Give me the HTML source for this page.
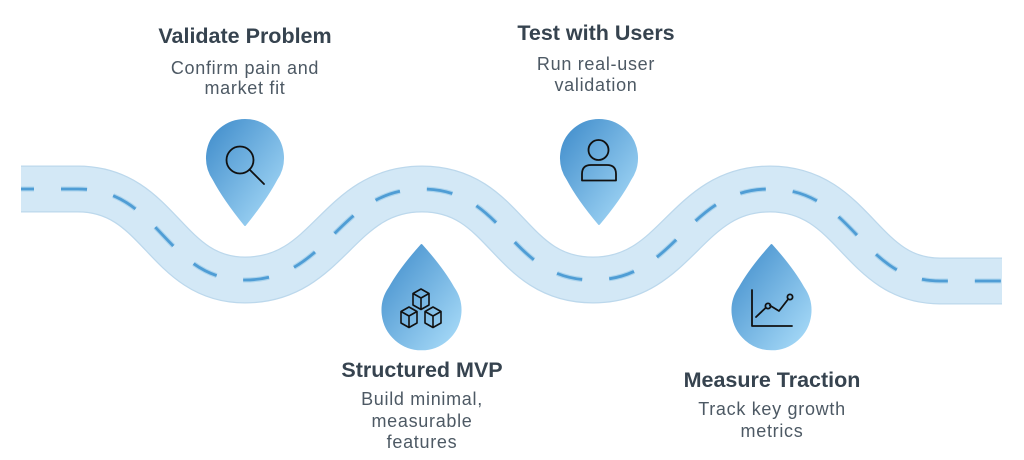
<!DOCTYPE html>
<html>
<head>
<meta charset="utf-8">
<style>
  html, body { margin:0; padding:0; background:#ffffff; }
  body { width:1024px; height:460px; overflow:hidden; }
  svg { display:block; }
  .t { font-family:"Liberation Sans", sans-serif; font-weight:700; font-size:21.5px; fill:#36434f; }
  .s { font-family:"Liberation Sans", sans-serif; font-weight:400; font-size:18px; fill:#4d5964; letter-spacing:0.7px; }
</style>
</head>
<body>
<svg width="1024" height="460" viewBox="0 0 1024 460" xmlns="http://www.w3.org/2000/svg">
  <defs>
    <linearGradient id="g" x1="0" y1="0" x2="1" y2="1">
      <stop offset="0" stop-color="#3e8bca"/>
      <stop offset="1" stop-color="#acdefa"/>
    </linearGradient>
  </defs>

  <!-- road -->
  <path d="M21,189 L78,189 C160,189 165,280 245,280 C330,280 337,189 422,189 C507,189 508,280 593,280 C678,280 685,189 770,189 C855,189 860,281 940,281 L1002,281"
        fill="none" stroke="#bcd8ec" stroke-width="47"/>
  <path d="M21,189 L78,189 C160,189 165,280 245,280 C330,280 337,189 422,189 C507,189 508,280 593,280 C678,280 685,189 770,189 C855,189 860,281 940,281 L1002,281"
        fill="none" stroke="#d3e8f6" stroke-width="44.5"/>
  <path d="M21,189 L78,189 C160,189 165,280 245,280 C330,280 337,189 422,189 C507,189 508,280 593,280 C678,280 685,189 770,189 C855,189 860,281 940,281 L1002,281"
        fill="none" stroke="#8cc2e6" stroke-width="5" stroke-dasharray="26 27" stroke-dashoffset="13" opacity="0.55"/>
  <path d="M21,189 L78,189 C160,189 165,280 245,280 C330,280 337,189 422,189 C507,189 508,280 593,280 C678,280 685,189 770,189 C855,189 860,281 940,281 L1002,281"
        fill="none" stroke="#4f9dd5" stroke-width="2.8" stroke-dasharray="26 27" stroke-dashoffset="13"/>

  <!-- Pin 1: Validate Problem (pointing down) -->
  <path d="M245,225 Q224,199 213.7,179.5 A38,38 0 1,1 276.3,179.5 Q266,199 245,225 Z" fill="url(#g)" stroke="url(#g)" stroke-width="2" stroke-linejoin="round"/>
  <circle cx="240" cy="160" r="13.5" fill="none" stroke="#111" stroke-width="1.8"/>
  <line x1="249.5" y1="169.5" x2="264" y2="184" stroke="#111" stroke-width="1.8" stroke-linecap="round"/>

  <!-- Pin 2: Test with Users (pointing down) -->
  <path d="M599,224 Q578,199 567.7,179.5 A38,38 0 1,1 630.3,179.5 Q620,199 599,224 Z" fill="url(#g)" stroke="url(#g)" stroke-width="2" stroke-linejoin="round"/>
  <circle cx="598.5" cy="150" r="10" fill="none" stroke="#111" stroke-width="1.8"/>
  <path d="M582,180.5 L582,174 Q582,165 591,165 L607,165 Q616,165 616,174 L616,180.5 Z" fill="none" stroke="#111" stroke-width="1.8" stroke-linejoin="round"/>

  <!-- Drop 3: Structured MVP (pointing up) -->
  <path d="M421.5,245 Q400,269 389.5,288 A39,39 0 1,0 453.5,288 Q443,269 421.5,245 Z" fill="url(#g)" stroke="url(#g)" stroke-width="2" stroke-linejoin="round"/>
  <g fill="none" stroke="#111" stroke-width="1.6" stroke-linejoin="round">
    <path d="M421,289 L429,293.5 L421,298 L413,293.5 Z M413,293.5 L413,305 L421,309.5 L429,305 L429,293.5 M421,298 L421,309.5"/>
    <path d="M409,307 L417,311.5 L409,316 L401,311.5 Z M401,311.5 L401,323 L409,327.5 L417,323 L417,311.5 M409,316 L409,327.5"/>
    <path d="M433,307 L441,311.5 L433,316 L425,311.5 Z M425,311.5 L425,323 L433,327.5 L441,323 L441,311.5 M433,316 L433,327.5"/>
  </g>

  <!-- Drop 4: Measure Traction (pointing up) -->
  <path d="M771.5,245 Q750,269 739.5,288 A39,39 0 1,0 803.5,288 Q793,269 771.5,245 Z" fill="url(#g)" stroke="url(#g)" stroke-width="2" stroke-linejoin="round"/>
  <g fill="none" stroke="#111" stroke-width="1.8" stroke-linecap="round" stroke-linejoin="round">
    <path d="M752,290 L752,326 L792,326"/>
    <path d="M756,317 L765.5,308 M770,305.5 L779,311 L787.5,300"/>
    <circle cx="768" cy="306" r="2.6"/>
    <circle cx="790" cy="297" r="2.6"/>
  </g>

  <!-- Texts -->
  <text class="t" x="245" y="43" text-anchor="middle">Validate Problem</text>
  <text class="s" x="245" y="74" text-anchor="middle">Confirm pain and</text>
  <text class="s" x="245" y="94" text-anchor="middle">market fit</text>

  <text class="t" x="596" y="40" text-anchor="middle">Test with Users</text>
  <text class="s" x="596" y="70" text-anchor="middle">Run real-user</text>
  <text class="s" x="596" y="91" text-anchor="middle">validation</text>

  <text class="t" x="422" y="377" text-anchor="middle">Structured MVP</text>
  <text class="s" x="422" y="405" text-anchor="middle">Build minimal,</text>
  <text class="s" x="422" y="427" text-anchor="middle">measurable</text>
  <text class="s" x="422" y="448" text-anchor="middle">features</text>

  <text class="t" x="772" y="387" text-anchor="middle">Measure Traction</text>
  <text class="s" x="772" y="415" text-anchor="middle">Track key growth</text>
  <text class="s" x="772" y="437" text-anchor="middle">metrics</text>
</svg>
</body>
</html>
